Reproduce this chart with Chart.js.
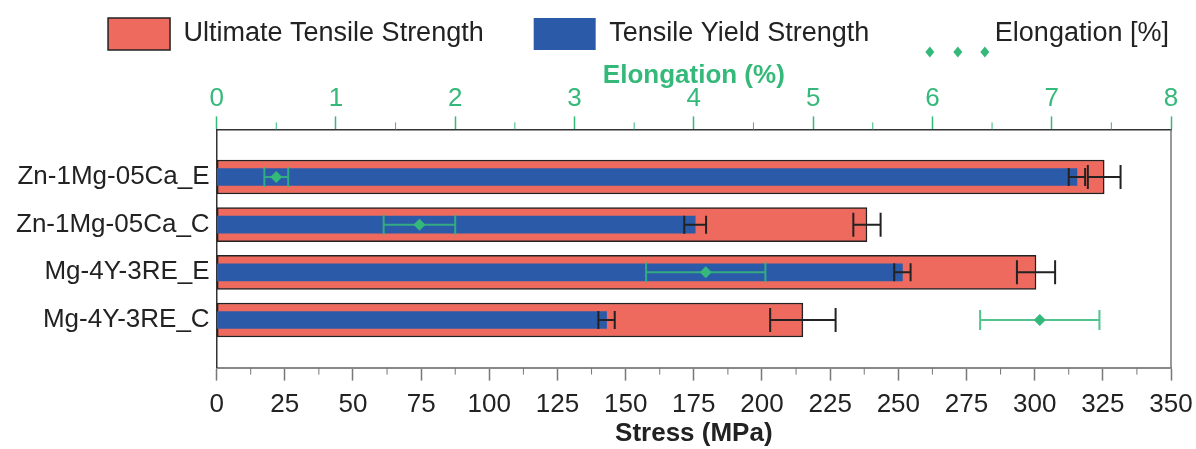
<!DOCTYPE html>
<html>
<head>
<meta charset="utf-8">
<script src="https://cdn.jsdelivr.net/npm/chart.js@4.4.0/dist/chart.umd.min.js"></script>
<style>
html, body { margin: 0; padding: 0; background: #fff; }
#wrap { width: 1196px; height: 449px; position: relative; }
</style>
</head>
<body>
<div id="wrap"><canvas id="mechChart"></canvas></div>
<script>
/* =========================
   DATA
========================= */

const alloys = ["Zn-1Mg-05Ca_E", "Zn-1Mg-05Ca_C", "Mg-4Y-3RE_E", "Mg-4Y-3RE_C"];

const utsValues = [325.5, 238.5, 300.5, 215];
const utsErrors = [6, 5, 7, 12];

const tysValues = [315.5, 175.5, 251.5, 143];
const tysErrors = [3, 4, 3, 3];

const elongValues = [0.5, 1.7, 4.1, 6.9];
const elongErrors = [0.1, 0.3, 0.5, 0.5];

const stressTicks = [0, 25, 50, 75, 100, 125, 150, 175, 200, 225, 250, 275, 300, 325, 350];
const elongTicks = [0, 1, 2, 3, 4, 5, 6, 7, 8];

/* =========================
   STYLE
========================= */

const RED = "#EE6A5E";
const BLUE = "#2B5BA8";
const GREEN = "#35B97A";
const FONT = "'Liberation Sans', Arial, sans-serif";
const LEGEND_SIZE = 27;

Chart.defaults.font.family = FONT;

// an empty slot above and below the four alloys
const yLabels = ["", ...alloys, ""];
const pad = arr => [null, ...arr, null];

/* =========================
   PLUGINS
========================= */

const errorBars = {
    id: "errorBars",

    beforeDatasetDraw(chart, args) {
        const ds = chart.data.datasets[args.index];
        if (ds.type !== "scatter") return;
        const ctx = chart.ctx;
        const xs = chart.scales[args.meta.xAxisID];
        ctx.save();
        ctx.strokeStyle = "rgba(53,185,122,0.85)";
        ctx.lineWidth = 2;
        ds.data.forEach((p, i) => {
            const el = args.meta.data[i];
            const lo = xs.getPixelForValue(p.x - ds.errors[i]);
            const hi = xs.getPixelForValue(p.x + ds.errors[i]);
            const y = el.y;
            ctx.beginPath();
            ctx.moveTo(lo, y); ctx.lineTo(hi, y);
            ctx.moveTo(lo, y - 10); ctx.lineTo(lo, y + 10);
            ctx.moveTo(hi, y - 10); ctx.lineTo(hi, y + 10);
            ctx.stroke();
        });
        ctx.restore();
    },

    afterDatasetDraw(chart, args) {
        const ds = chart.data.datasets[args.index];
        if (ds.type === "scatter" || !ds.errors) return;
        const ctx = chart.ctx;
        const xs = chart.scales[args.meta.xAxisID];
        const cap = ds.capSize;
        ctx.save();
        ctx.strokeStyle = "#222";
        ctx.lineWidth = 2;
        ds.data.forEach((v, i) => {
            if (v === null) return;
            const el = args.meta.data[i];
            const lo = xs.getPixelForValue(v - ds.errors[i]);
            const hi = xs.getPixelForValue(v + ds.errors[i]);
            const y = el.y;
            ctx.beginPath();
            ctx.moveTo(lo, y); ctx.lineTo(hi, y);
            ctx.moveTo(lo, y - cap); ctx.lineTo(lo, y + cap);
            ctx.moveTo(hi, y - cap); ctx.lineTo(hi, y + cap);
            ctx.stroke();
        });
        ctx.restore();
    }
};

const frameAndMinor = {
    id: "frameAndMinor",

    afterLayout(chart) {
        // move legend row up and to the right
        const lg = chart.legend;
        lg.top -= 32;
        lg.height += 32;
        lg.left += 38;
        lg.right += 38;
        if (lg.adjustHitBoxes) lg.adjustHitBoxes();
    },

    afterDraw(chart) {
        const ctx = chart.ctx;
        const area = chart.chartArea;
        const x = chart.scales.x;
        const x2 = chart.scales.x2;

        ctx.save();

        // right frame line
        ctx.strokeStyle = "#777";
        ctx.lineWidth = 1.5;
        ctx.beginPath();
        ctx.moveTo(area.right, area.top);
        ctx.lineTo(area.right, area.bottom);
        ctx.stroke();

        // minor ticks, bottom
        ctx.strokeStyle = "#777";
        ctx.lineWidth = 1;
        for (let i = 0; i < stressTicks.length - 1; i++) {
            const px = x.getPixelForValue((stressTicks[i] + stressTicks[i + 1]) / 2);
            ctx.beginPath();
            ctx.moveTo(px, area.bottom);
            ctx.lineTo(px, area.bottom + 7);
            ctx.stroke();
        }

        // minor ticks, top
        ctx.strokeStyle = GREEN;
        for (let i = 0; i < elongTicks.length - 1; i++) {
            const px = x2.getPixelForValue((elongTicks[i] + elongTicks[i + 1]) / 2);
            ctx.beginPath();
            ctx.moveTo(px, area.top);
            ctx.lineTo(px, area.top - 7);
            ctx.stroke();
        }

        // legend symbol for elongation: three diamonds
        const box = chart.legend.legendHitBoxes[2];
        if (box) {
            const cy = box.top + box.height / 2;
            const textX = box.left + 62 + LEGEND_SIZE / 2;
            ctx.fillStyle = GREEN;
            [-65, -37, -10].forEach(dx => {
                const cx = textX + dx;
                ctx.beginPath();
                ctx.moveTo(cx, cy - 5.5);
                ctx.lineTo(cx + 4.5, cy);
                ctx.lineTo(cx, cy + 5.5);
                ctx.lineTo(cx - 4.5, cy);
                ctx.closePath();
                ctx.fill();
            });
        }

        ctx.restore();
    }
};

/* =========================
   CHART
========================= */

new Chart(document.getElementById("mechChart"), {

    type: "bar",

    data: {

        labels: yLabels,

        datasets: [
            {
                label: "Ultimate Tensile Strength",
                data: pad(utsValues),
                errors: pad(utsErrors),
                capSize: 12,
                backgroundColor: RED,
                borderColor: "#222",
                borderWidth: 1.5,
                borderSkipped: false,
                barThickness: 34,
                grouped: false,
                xAxisID: "x",
                order: 3
            },
            {
                label: "Tensile Yield Strength",
                data: pad(tysValues),
                errors: pad(tysErrors),
                capSize: 9,
                backgroundColor: BLUE,
                borderWidth: 0,
                barThickness: 17,
                grouped: false,
                xAxisID: "x",
                order: 2
            },
            {
                type: "scatter",
                label: "Elongation [%]",
                data: elongValues.map((v, i) => ({ x: v, y: alloys[i] })),
                errors: elongErrors,
                backgroundColor: GREEN,
                borderColor: GREEN,
                pointStyle: "rectRot",
                pointRadius: 6,
                pointBorderWidth: 0,
                xAxisID: "x2",
                yAxisID: "y",
                order: 1
            }
        ]

    },

    options: {

        indexAxis: "y",

        responsive: true,

        maintainAspectRatio: false,

        animation: false,

        layout: {
            padding: { left: 9, right: 4, top: 0, bottom: 0 }
        },

        plugins: {

            legend: {
                position: "top",
                maxHeight: 60,
                labels: {
                    boxWidth: 62,
                    boxHeight: 32,
                    padding: 50,
                    color: "#222",
                    font: { size: LEGEND_SIZE },
                    sort: (a, b) => a.datasetIndex - b.datasetIndex,
                    generateLabels(chart) {
                        const items = Chart.defaults.plugins.legend.labels.generateLabels(chart);
                        items.forEach(it => {
                            if (it.datasetIndex === 2) {
                                it.fillStyle = "rgba(0,0,0,0)";
                                it.strokeStyle = "rgba(0,0,0,0)";
                                it.lineWidth = 0;
                            }
                        });
                        return items;
                    }
                }
            },

            tooltip: { enabled: false }

        },

        scales: {

            x: {
                type: "linear",
                position: "bottom",
                min: 0,
                max: 350,
                afterBuildTicks: axis => {
                    axis.ticks = stressTicks.map(v => ({ value: v }));
                },
                afterFit: axis => {
                    axis.paddingRight = 25;
                },
                ticks: {
                    color: "#222",
                    font: { size: 26 },
                    padding: 9,
                    maxRotation: 0,
                    autoSkip: false
                },
                grid: {
                    drawOnChartArea: false,
                    tickLength: 13,
                    tickColor: "#777",
                    tickWidth: 1.5
                },
                border: { color: "#888", width: 2 },
                title: {
                    display: true,
                    text: "Stress (MPa)",
                    color: "#222",
                    font: { size: 26, weight: "bold" },
                    padding: { top: -12, bottom: 0 }
                }
            },

            x2: {
                type: "linear",
                position: "top",
                min: 0,
                max: 8,
                afterBuildTicks: axis => {
                    axis.ticks = elongTicks.map(v => ({ value: v }));
                },
                afterFit: axis => {
                    axis.paddingRight = 10;
                },
                ticks: {
                    color: GREEN,
                    font: { size: 26 },
                    padding: 2,
                    maxRotation: 0,
                    autoSkip: false
                },
                grid: {
                    drawOnChartArea: false,
                    tickLength: 13,
                    tickColor: GREEN,
                    tickWidth: 1.5
                },
                border: { color: "#333", width: 1.5 },
                title: {
                    display: true,
                    text: "Elongation (%)",
                    color: GREEN,
                    font: { size: 26, weight: "bold" },
                    padding: { top: 0, bottom: -10 }
                }
            },

            y: {
                type: "category",
                offset: false,
                ticks: {
                    color: "#222",
                    font: { size: 26 },
                    padding: 7,
                    autoSkip: false
                },
                grid: { display: false, drawTicks: false },
                border: { color: "#333", width: 1.5 }
            }

        }

    },

    plugins: [errorBars, frameAndMinor]

});
</script>
</body>
</html>
